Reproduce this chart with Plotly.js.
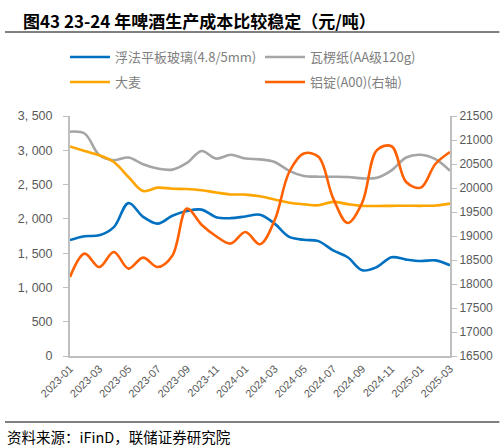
<!DOCTYPE html>
<html>
<head>
<meta charset="utf-8">
<script src="https://cdn.plot.ly/plotly-3.0.1.min.js"></script>
<style>
  html, body { margin: 0; padding: 0; background: #fff; }
  #chart { width: 504px; height: 447px; }
</style>
</head>
<body>
<div id="chart"></div>
<script>
// 月份（2023-01 ~ 2025-03）
var months = [
  '2023-01', '2023-02', '2023-03', '2023-04', '2023-05', '2023-06', '2023-07', '2023-08', '2023-09',
  '2023-10', '2023-11', '2023-12', '2024-01', '2024-02', '2024-03', '2024-04', '2024-05', '2024-06',
  '2024-07', '2024-08', '2024-09', '2024-10', '2024-11', '2024-12', '2025-01', '2025-02', '2025-03'
];

// 浮法平板玻璃(4.8/5mm)
var glass = [1690, 1745, 1760, 1880, 2230, 2030, 1930, 2045, 2115, 2135, 2025, 2010, 2035, 2060,
  1930, 1736, 1695, 1675, 1540, 1440, 1250, 1298, 1440, 1406, 1385, 1395, 1323];

// 瓦楞纸(AA级120g)
var paper = [3270, 3245, 2930, 2855, 2895, 2796, 2733, 2718, 2815, 2990, 2879, 2935, 2879, 2868,
  2830, 2700, 2625, 2615, 2615, 2611, 2590, 2600, 2708, 2895, 2935, 2870, 2700];

// 大麦
var barley = [3055, 2990, 2927, 2829, 2611, 2406, 2455, 2440, 2435, 2416, 2385, 2356, 2354, 2330,
  2281, 2235, 2213, 2198, 2247, 2215, 2190, 2188, 2190, 2192, 2190, 2195, 2223];

// 铝锭(A00)（右轴）
var alu = [18146, 18633, 18354, 18667, 18321, 18550, 18354, 18590, 19571, 19235, 18995, 18842, 19083, 18827,
  19327, 20333, 20720, 20650, 19790, 19271, 19700, 20790, 20870, 20125, 20008, 20500, 20750];

// 刻度
var xTicks = months.filter(function (m, i) { return i % 2 === 0; });
var leftTickVals = [0, 500, 1000, 1500, 2000, 2500, 3000, 3500];
var leftTickText = ['0', '500', '1, 000', '1, 500', '2, 000', '2, 500', '3, 000', '3, 500'];

var legendFont = { family: 'Noto Sans CJK SC', size: 13, color: '#808080' };

// 每个图例单独放置（两行两列）
function legendAt(px, py) {
  return {
    orientation: 'h', xref: 'container', yref: 'container',
    x: px / 504, y: 1 - py / 447, xanchor: 'left', yanchor: 'top',
    itemwidth: 40, font: legendFont, bgcolor: 'rgba(0,0,0,0)'
  };
}

var traces = [
  { x: months, y: glass, name: '浮法平板玻璃(4.8/5mm)', type: 'scatter', mode: 'lines',
    line: { color: '#0070C0', width: 2.6, shape: 'spline', smoothing: 1 }, legend: 'legend' },
  { x: months, y: paper, name: '瓦楞纸(AA级120g)', type: 'scatter', mode: 'lines',
    line: { color: '#A5A5A5', width: 2.6, shape: 'spline', smoothing: 1 }, legend: 'legend2' },
  { x: months, y: barley, name: '大麦', type: 'scatter', mode: 'lines',
    line: { color: '#FFA500', width: 2.6, shape: 'spline', smoothing: 1 }, legend: 'legend3' },
  { x: months, y: alu, name: '铝锭(A00)(右轴)', type: 'scatter', mode: 'lines', yaxis: 'y2',
    line: { color: '#FF6100', width: 2.6, shape: 'spline', smoothing: 1 }, legend: 'legend4' }
];

var layout = {
  width: 504,
  height: 447,
  margin: { l: 70, r: 54, t: 116, b: 91 },
  paper_bgcolor: '#fff',
  plot_bgcolor: '#fff',
  font: { family: 'Liberation Sans, Arial, sans-serif', color: '#595959', size: 12 },
  showlegend: true,
  legend: legendAt(65, 42),
  legend2: legendAt(260, 42),
  legend3: legendAt(65, 67),
  legend4: legendAt(260, 67),
  xaxis: {
    type: 'category',
    range: [0, months.length - 1],
    tickvals: xTicks,
    ticktext: xTicks,
    tickangle: -45,
    tickfont: { size: 11, color: '#595959' },
    showline: true, linecolor: '#BFBFBF', linewidth: 2,
    showgrid: false, zeroline: false, ticks: ''
  },
  yaxis: {
    range: [0, 3500],
    tickvals: leftTickVals,
    ticktext: leftTickText,
    tickfont: { size: 12.5, color: '#595959' },
    ticklabelstandoff: 8,
    showline: true, linecolor: '#BFBFBF', linewidth: 2,
    ticks: 'outside', ticklen: 5, tickcolor: '#BFBFBF',
    showgrid: false, zeroline: false
  },
  yaxis2: {
    overlaying: 'y', side: 'right',
    range: [16500, 21500], dtick: 500, tick0: 16500,
    tickformat: 'd',
    tickfont: { size: 12, color: '#595959' },
    showline: true, linecolor: '#BFBFBF', linewidth: 2,
    ticks: 'outside', ticklen: 5, tickcolor: '#BFBFBF',
    showgrid: false, zeroline: false
  },
  shapes: [
    { type: 'line', xref: 'paper', yref: 'paper', x0: -0.171, x1: 1.13, y0: 1 + 84 / 240, y1: 1 + 84 / 240,
      line: { color: '#000', width: 1 } },
    { type: 'line', xref: 'paper', yref: 'paper', x0: -0.171, x1: 1.13, y0: -66 / 240, y1: -66 / 240,
      line: { color: '#7F7F7F', width: 2 } }
  ],
  annotations: [
    { text: '<b>图43 23-24 年啤酒生产成本比较稳定（元/吨）</b>', xref: 'paper', yref: 'paper',
      x: -0.13, y: 1 + 96 / 240, xanchor: 'left', yanchor: 'middle', showarrow: false,
      font: { family: 'Noto Sans CJK SC', size: 17, color: '#000' } },
    { text: '资料来源：iFinD，联储证券研究院', xref: 'paper', yref: 'paper',
      x: -0.171, y: -80 / 240, xanchor: 'left', yanchor: 'middle', showarrow: false,
      font: { family: 'Noto Sans CJK SC', size: 14.5, color: '#000' } }
  ]
};

Plotly.newPlot('chart', traces, layout, { displayModeBar: false, staticPlot: true });
</script>
</body>
</html>
